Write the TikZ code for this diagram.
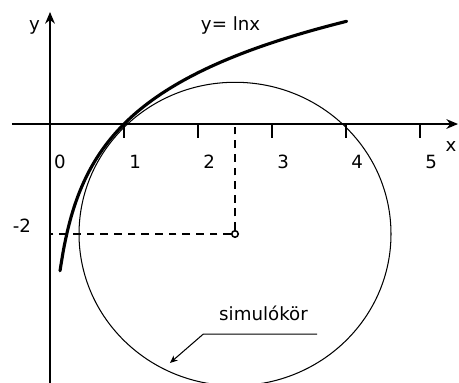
\documentclass[tikz,border=0pt]{standalone}
\usepackage{fontspec}
\setmainfont{DejaVu Sans}
\usetikzlibrary{arrows.meta, calc}

\begin{document}
\begin{tikzpicture}[
  x=2cm, y=2cm,
  axis/.style={line width=1.2pt, -{Stealth[length=9pt, width=7.5pt]}},
  tickmark/.style={line width=1pt},
  lbl/.style={font=\fontsize{14}{16}\selectfont, anchor=base, inner sep=0pt},
  lncurve/.style={line width=2.4pt, line join=round, line cap=round},
  osc/.style={line width=0.8pt},
  guide/.style={line width=0.9pt, dash pattern=on 6pt off 4.5pt},
  ptr/.style={line width=0.8pt, -{Stealth[length=6pt, width=5pt]}},
  dot/.style={circle, draw, fill=white, line width=1.2pt,
    minimum size=5pt, inner sep=0pt}
]
\useasboundingbox (-0.676,-3.5) rectangle (5.527,1.676);

\coordinate (O) at (0,0);
\coordinate (xl) at (-0.514,0);
\coordinate (xr) at (5.514,0);
\coordinate (yb) at (0,-3.5);
\coordinate (yt) at (0,1.514);
\coordinate (C) at (2.5,-1.486);

% simulo kor
\draw[osc] (C) circle[x radius=2.108, y radius=2.05];
\node[dot] (cp) at (C) {};
\draw[guide] (cp) -- (cp |- O);
\draw[guide] (cp) -- (cp -| O);

% y = ln x
\draw[lncurve] plot[domain=0.135:4.01, samples=80, smooth] (\x,{ln(\x)});

% axes
\draw[axis] (xl) -- (xr);
\draw[axis] (yb) -- (yt);
\foreach \k in {1,...,5} {
  \draw[tickmark] (\k,0) -- (\k,-0.19);
  \node[lbl] (t\k) at (\k+0.15,-0.595) {\k};
}
\node[lbl] (t0) at (0.135,-0.595) {0};
\node[lbl] (xlab) at (5.42,-0.378) {x};
\node[lbl] (ylab) at (-0.21,1.27) {y};
\node[lbl] (m2) at (-0.38,-1.46) {-2};
\node[lbl] (fn) at (2.44,1.257) {y= lnx};

% label with pointer
\node[lbl] (sim) at (2.885,-2.66) {simulókör};
\coordinate (ul) at (2.07,-2.84);
\coordinate (ur) at (3.61,-2.84);
\coordinate (tip) at (1.62,-3.23);
\draw[ptr] (ur) -- (ul) -- (tip);
\end{tikzpicture}
\end{document}
